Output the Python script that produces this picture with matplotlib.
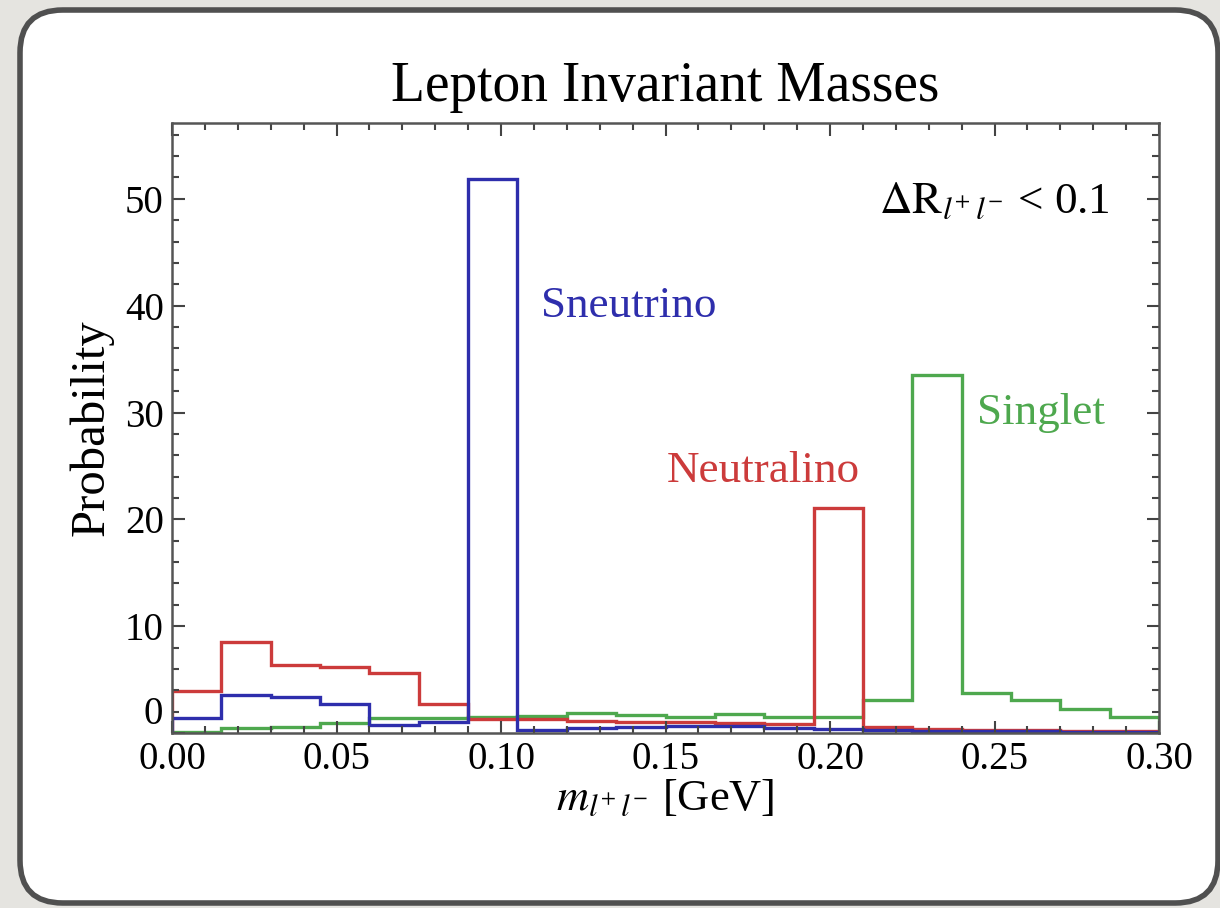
import matplotlib
matplotlib.use("Agg")
import matplotlib.pyplot as plt
from matplotlib.patches import FancyBboxPatch
from matplotlib.ticker import MultipleLocator, FormatStrFormatter, FuncFormatter

plt.rcParams['font.family'] = ['Liberation Serif', 'DejaVu Serif']
plt.rcParams['mathtext.fontset'] = 'stix'

# bin edges of the histograms (GeV)
edges = [0.000, 0.015, 0.030, 0.045, 0.060, 0.075, 0.090, 0.105, 0.120, 0.135,
         0.150, 0.165, 0.180, 0.195, 0.210, 0.225, 0.240, 0.255, 0.270, 0.285, 0.300]

# probability per bin
sneutrino = [1.4, 3.55, 3.35, 2.7, 0.75, 1.05, 51.9, 0.3, 0.5, 0.6,
             0.7, 0.7, 0.5, 0.4, 0.3, 0.2, 0.2, 0.2, 0.1, 0.1]
neutralino = [3.9, 8.5, 6.4, 6.2, 5.65, 2.7, 1.3, 1.3, 1.1, 1.0,
              1.0, 0.9, 0.8, 21.1, 0.6, 0.4, 0.3, 0.3, 0.2, 0.2]
singlet = [0.1, 0.45, 0.55, 0.9, 1.45, 1.45, 1.5, 1.6, 1.85, 1.7,
           1.5, 1.8, 1.5, 1.5, 3.05, 33.5, 3.7, 3.1, 2.25, 1.5]

c_blue = '#2e2eac'
c_red = '#cc3b3b'
c_green = '#4ea84e'

fig = plt.figure(figsize=(12.2, 9.08), dpi=100)
fig.patch.set_facecolor('#e5e4e0')

# rounded white panel behind the chart
panel = FancyBboxPatch((20 / 1220, 5 / 908), 1198 / 1220, 893 / 908,
                       boxstyle='round,pad=0,rounding_size=0.035',
                       transform=fig.transFigure, facecolor='white',
                       edgecolor='#505050', linewidth=4,
                       mutation_aspect=1220 / 908, zorder=-10)
fig.patches.append(panel)

ax = fig.add_axes([172 / 1220, 1 - 733 / 908, 987 / 1220, 610 / 908])
ax.set_facecolor('none')

ax.stairs(singlet, edges, color=c_green, linewidth=2.4)
ax.stairs(neutralino, edges, color=c_red, linewidth=2.4)
ax.stairs(sneutrino, edges, color=c_blue, linewidth=2.4)

ax.set_xlim(0, 0.30)
ax.set_ylim(0, 57.1)
ax.xaxis.set_major_locator(MultipleLocator(0.05))
ax.xaxis.set_minor_locator(MultipleLocator(0.01))
ax.yaxis.set_major_locator(MultipleLocator(10))
ax.yaxis.set_minor_locator(MultipleLocator(2))
ax.xaxis.set_major_formatter(FormatStrFormatter('%.2f'))
# the "0" of the y axis is drawn separately, a bit above the corner
ax.yaxis.set_major_formatter(FuncFormatter(lambda v, p: '' if v == 0 else '%d' % v))
ax.tick_params(which='both', direction='in', top=True, right=True,
               color='#444444', width=1.5, labelsize=28, pad=6)
ax.tick_params(which='major', length=9)
ax.tick_params(which='minor', length=5)
for s in ax.spines.values():
    s.set_color('#555555')
    s.set_linewidth(1.8)

ax.annotate('0', xy=(0, 0), xycoords=('axes fraction', 'data'),
            xytext=(-6.5, 13), textcoords='offset points',
            ha='right', va='center', fontsize=28)

ax.set_title('Lepton Invariant Masses', fontsize=40, pad=16)
ax.set_ylabel('Probability', fontsize=35, labelpad=8)
ax.set_xlabel(r'$m_{l^{+}\,l^{-}}$ [GeV]', fontsize=32, labelpad=0)

ax.text(0.1123, 40.0, 'Sneutrino', color=c_blue, fontsize=32.5, va='center')
ax.text(0.1505, 24.5, 'Neutralino', color=c_red, fontsize=32.5, va='center')
ax.text(0.2448, 30.0, 'Singlet', color=c_green, fontsize=32.5, va='center')
ax.text(0.2150, 49.7, r'$\Delta\mathrm{R}_{l^{+}\,l^{-}}$ < 0.1', color='black',
        fontsize=32.5, va='center')

fig.savefig('out.png', dpi=100, facecolor=fig.get_facecolor())
